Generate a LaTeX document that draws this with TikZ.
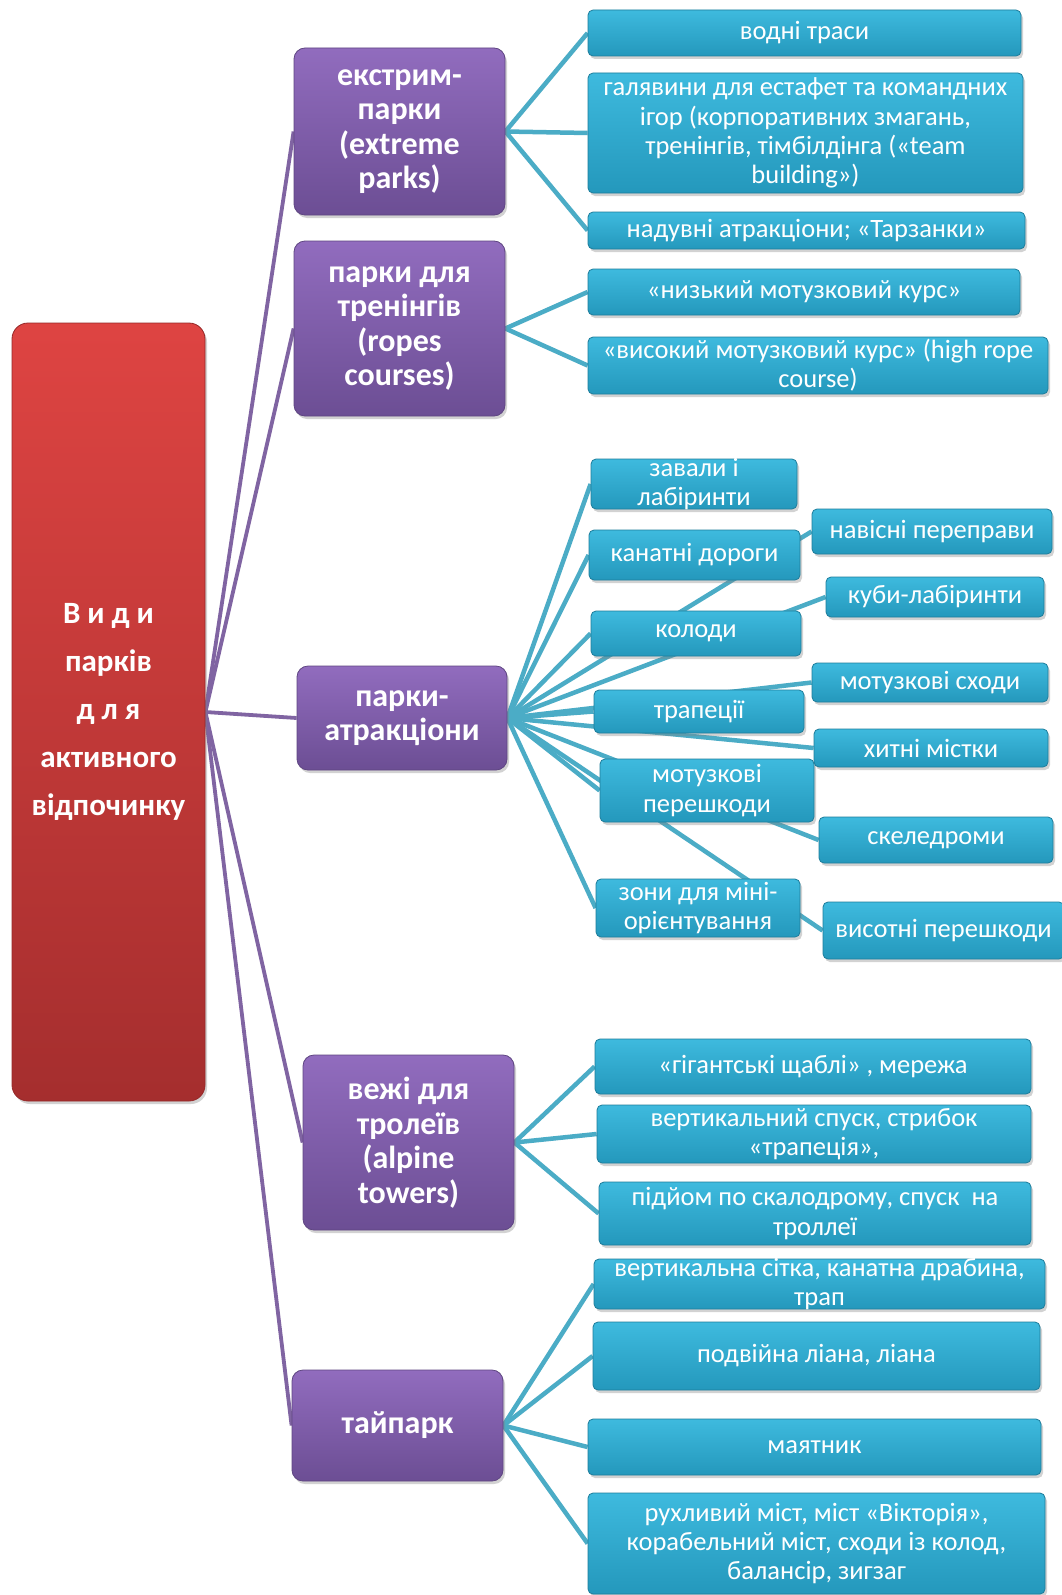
\documentclass[tikz,border=0pt]{standalone}
\usepackage{fontspec}
\setmainfont{Carlito}
\usetikzlibrary{fit,shadows,backgrounds}
\definecolor{bluetop}{RGB}{62,186,222}
\definecolor{bluebot}{RGB}{36,152,188}
\definecolor{blueline}{RGB}{75,172,198}
\definecolor{blueedge}{RGB}{30,125,155}
\definecolor{purtop}{RGB}{145,108,190}
\definecolor{purbot}{RGB}{108,78,148}
\definecolor{purline}{RGB}{128,100,162}
\definecolor{puredge}{RGB}{95,70,130}
\definecolor{redtop}{RGB}{222,68,66}
\definecolor{redbot}{RGB}{165,46,46}
\definecolor{rededge}{RGB}{150,40,40}
\tikzset{
 bluebox/.style={rounded corners=5pt, top color=bluetop, bottom color=bluebot, draw=blueedge, line width=0.8pt, inner sep=0pt,
   drop shadow={shadow xshift=2pt, shadow yshift=-3pt, opacity=0.35}},
 bluebox text/.style={text=white, font=\fontsize{26.5}{29.2}\selectfont, align=center, inner sep=0pt},
 purbox/.style={rounded corners=11pt, top color=purtop, bottom color=purbot, draw=puredge, line width=0.8pt, inner sep=0pt,
   drop shadow={shadow xshift=2pt, shadow yshift=-3pt, opacity=0.35}},
 purbox text/.style={text=white, font=\bfseries\fontsize{32}{34.5}\selectfont, align=center, inner sep=0pt},
 rootbox/.style={rounded corners=16pt, top color=redtop, bottom color=redbot, draw=rededge, line width=0.8pt, inner sep=0pt,
   drop shadow={shadow xshift=2pt, shadow yshift=-3pt, opacity=0.35}},
 rootbox text/.style={text=white, font=\bfseries\fontsize{31}{48}\selectfont, align=center, inner sep=0pt},
 bline/.style={draw=blueline, line width=4.5pt},
 pline/.style={draw=purline, line width=3.8pt},
}
\newcommand\mkbox[7]{\node[#1, fit={(#3,#4) (#5,#6)}] (#2) {};
 \node[#1 text] (#2t) at (#2.center) {#7};}
\begin{document}
\begin{tikzpicture}[x=1pt,y=-1pt]
\useasboundingbox (0,0) rectangle (1061,1595);
% root and categories
\mkbox{rootbox}{root}{12}{323}{205}{1101}{В\ и\ д\ и\\ парків\\ д\ л\ я\\ активного\\ відпочинку}
\mkbox{purbox}{ext}{294}{48}{505}{215}{екстрим-\\парки\\(extreme\\parks)}
\mkbox{purbox}{rop}{294}{241}{505}{416}{парки для\\тренінгів\\(ropes\\courses)}
\mkbox{purbox}{att}{297}{666}{507}{770}{парки-\\атракціони}
\mkbox{purbox}{tow}{303}{1055}{514}{1230}{вежі для\\тролеїв\\(alpine\\towers)}
\mkbox{purbox}{tai}{292}{1370}{503}{1481}{тайпарк}
% extreme parks
\mkbox{bluebox}{e1}{588}{10}{1021}{56}{водні траси}
\mkbox{bluebox}{e2}{588}{73}{1023}{193}{галявини для естафет та командних\\ігор (корпоративних змагань,\\тренінгів, тімбілдінга («team\\building»)}
\mkbox{bluebox}{e3}{588}{212}{1025}{249}{надувні атракціони; «Тарзанки»}
% ropes courses
\mkbox{bluebox}{r1}{588}{269}{1020}{315}{«низький мотузковий курс»}
\mkbox{bluebox}{r2}{588}{337}{1048}{394}{«високий мотузковий курс» (high rope\\course)}
% attractions
\mkbox{bluebox}{a1}{591}{459}{797}{509}{завали і\\лабіринти}
\mkbox{bluebox}{a2}{589}{530}{800}{580}{канатні дороги}
\mkbox{bluebox}{a3}{591}{611}{801}{656}{колоди}
\mkbox{bluebox}{a4}{594}{690}{804}{733}{трапеції}
\mkbox{bluebox}{a5}{600}{759}{814}{822}{мотузкові\\перешкоди}
\mkbox{bluebox}{a6}{596}{879}{800}{937}{зони для міні-\\орієнтування}
\mkbox{bluebox}{a7}{812}{509}{1052}{554}{навісні переправи}
\mkbox{bluebox}{a8}{826}{577}{1044}{617}{куби-лабіринти}
\mkbox{bluebox}{a9}{812}{663}{1048}{702}{мотузкові сходи}
\mkbox{bluebox}{a10}{814}{729}{1048}{767}{хитні містки}
\mkbox{bluebox}{a11}{819}{817}{1053}{863}{скеледроми}
\mkbox{bluebox}{a12}{823}{902}{1064}{959}{висотні перешкоди}
% towers
\mkbox{bluebox}{t1}{595}{1039}{1031}{1094}{«гігантські щаблі» , мережа}
\mkbox{bluebox}{t2}{597}{1105}{1031}{1163}{вертикальний спуск, стрибок\\«трапеція»,}
\mkbox{bluebox}{t3}{599}{1182}{1031}{1245}{підйом по скалодрому, спуск~ на\\троллеї}
% taipark
\mkbox{bluebox}{p1}{594}{1259}{1045}{1309}{вертикальна сітка, канатна драбина,\\трап}
\mkbox{bluebox}{p2}{593}{1322}{1040}{1390}{подвійна ліана, ліана}
\mkbox{bluebox}{p3}{588}{1419}{1041}{1475}{маятник}
\mkbox{bluebox}{p4}{588}{1493}{1045}{1594}{рухливий міст, міст «Вікторія»,\\корабельний міст, сходи із колод,\\балансір, зигзаг}
% connectors
\begin{scope}[on background layer]
\fill[white] (0,0) rectangle (1061,1595);
\foreach \n in {ext,rop,att,tow,tai} \draw[pline] (root.east) -- (\n.west);
\foreach \n in {e1,e2,e3} \draw[bline] (ext.east) -- (\n.west);
\foreach \n in {r1,r2} \draw[bline] (rop.east) -- (\n.west);
\foreach \n in {a1,a2,a3,a4,a5,a6,a7,a8,a9,a10,a11,a12} \draw[bline] (att.east) -- (\n.west);
\foreach \n in {t1,t2,t3} \draw[bline] (tow.east) -- (\n.west);
\foreach \n in {p1,p2,p3,p4} \draw[bline] (tai.east) -- (\n.west);
\end{scope}
\end{tikzpicture}
\end{document}
